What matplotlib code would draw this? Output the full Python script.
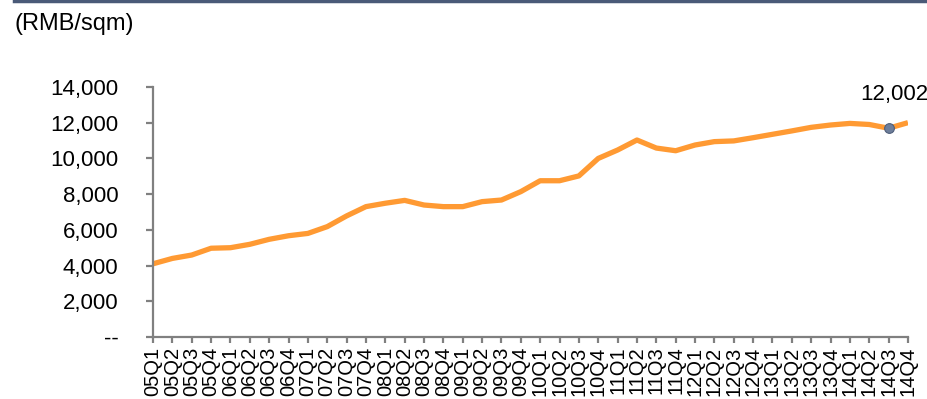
import matplotlib
matplotlib.use("Agg")
import matplotlib.pyplot as plt
import matplotlib.lines as mlines
from matplotlib.ticker import FuncFormatter

# quarterly average price, 2005Q1 - 2014Q4
years = ["05", "06", "07", "08", "09", "10", "11", "12", "13", "14"]
quarters = ["Q1", "Q2", "Q3", "Q4"]
labels = [y + q for y in years for q in quarters]
price = [4100, 4400, 4590, 4970,
         5000, 5190, 5470, 5670,
         5800, 6180, 6780, 7300,
         7490, 7650, 7390, 7300,
         7300, 7580, 7670, 8140,
         8750, 8750, 9020, 10000,
         10470, 11030, 10580, 10430,
         10750, 10940, 10980, 11160,
         11350, 11540, 11740, 11870,
         11960, 11900, 11690, 12002]
marked = 38  # highlighted quarter

ORANGE = "#FF9A33"
GREY = "#808080"
FONT = "Liberation Sans"

plt.rcParams["font.family"] = FONT

fig = plt.figure(figsize=(9.28, 3.99), dpi=100)
ax = fig.add_axes([0.1649, 0.1554, 0.8135, 0.6266])

x = list(range(len(labels)))
ax.plot(x, price, color=ORANGE, lw=3.8, solid_capstyle="butt", zorder=2)
ax.plot(x[marked], price[marked], "o", ms=7, color="#6E7E9A",
        mec="#4E5E7A", mew=0.8, zorder=3)
ax.annotate(f"{price[-1]:,}", (x[-1], price[-1]), xytext=(-10, 13),
            textcoords="offset points", ha="center", va="bottom", fontsize=16)

ax.set_xlim(0, len(labels) - 1)
ax.set_ylim(0, 14000)
ax.set_yticks(range(0, 14001, 2000))
ax.yaxis.set_major_formatter(FuncFormatter(lambda v, p: "--" if v == 0 else f"{int(v):,}"))
ax.set_xticks(x)
ax.set_xticklabels(labels, rotation=90, fontsize=14.5)

for s in ("top", "right"):
    ax.spines[s].set_visible(False)
for s in ("left", "bottom"):
    ax.spines[s].set_color(GREY)
    ax.spines[s].set_linewidth(1.6)
ax.tick_params(axis="y", colors=GREY, width=1.6, length=5, labelsize=16,
               labelcolor="black", pad=20)
ax.tick_params(axis="x", colors=GREY, width=1.6, length=4,
               labelcolor="black", pad=3)

fig.text(0.016, 0.94, "(RMB/sqm)", fontsize=17, va="center", ha="left")
fig.add_artist(mlines.Line2D([0.015, 1.0], [0.997, 0.997], color="#4A5A78",
                             lw=2.5, transform=fig.transFigure))

fig.savefig("out.png", dpi=100)
